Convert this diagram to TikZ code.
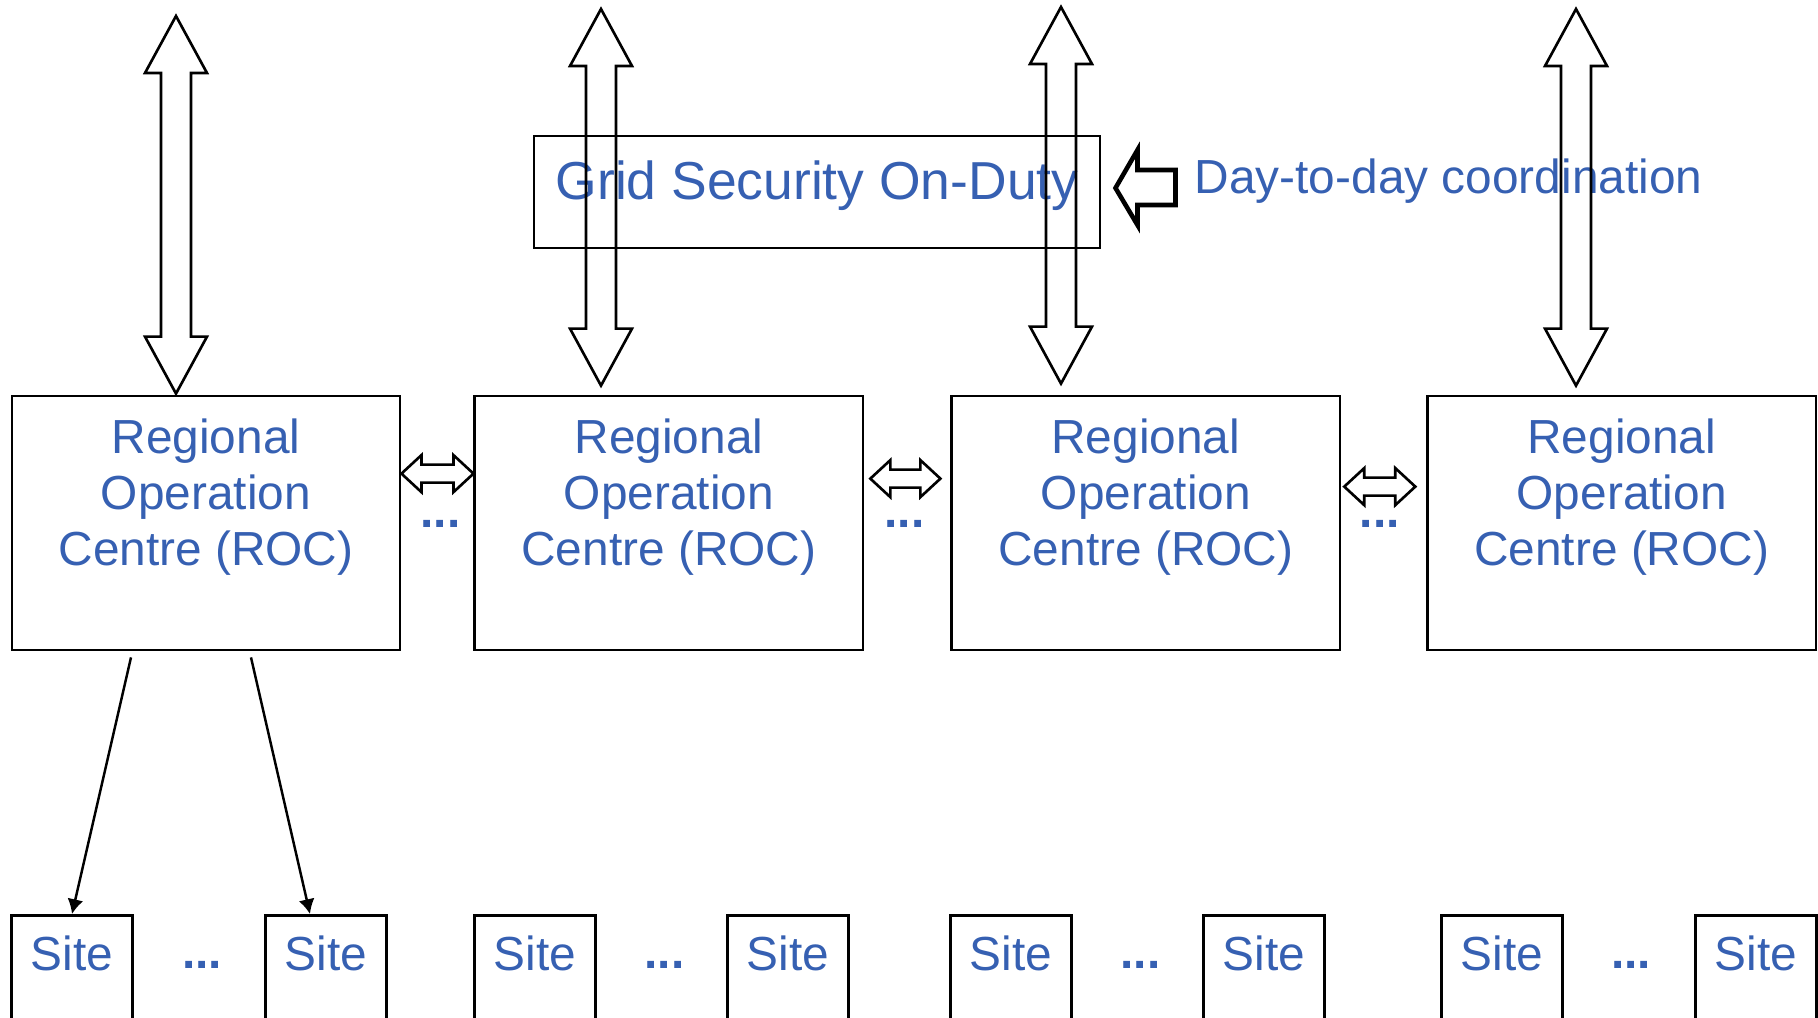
\documentclass[tikz,border=0pt]{standalone}
\usepackage{fontspec}
\setmainfont{Liberation Sans}
\usetikzlibrary{positioning,calc,arrows.meta}
\definecolor{rocblue}{RGB}{54,96,178}

%% hollow block arrows
\newcommand{\updown}[2]{%
  \draw[blockarrow] (#1) -- ++(31,57) -- ++(-16,0) -- ($(#2)+(15,-57)$) -- ++(16,0)
    -- (#2) -- ++(-31,-57) -- ++(16,0) -- ($(#1)+(-15,57)$) -- ++(-16,0) -- cycle;}
\newcommand{\leftright}[2]{%
  \draw[blockarrow] (#1) -- ++(20,-18.5) -- ++(0,9.5) -- ($(#2)+(-20,-9)$) -- ++(0,-9.5)
    -- (#2) -- ++(-20,18.5) -- ++(0,-9.5) -- ($(#1)+(20,9)$) -- ++(0,9.5) -- cycle;}

\begin{document}
\begin{tikzpicture}[x=0.01cm,y=-0.01cm,
    box/.style={draw,line width=0.75pt,inner sep=0pt},
    roc/.style={box,minimum width=3.88cm,minimum height=2.54cm},
    roctext/.style={align=center,text=rocblue,inner sep=0pt,font=\fontsize{13.6}{15.9}\selectfont},
    site/.style={box,minimum width=1.21cm,minimum height=1.1cm,anchor=north,text=rocblue,
      font=\fontsize{13.6}{16}\selectfont,text height=9pt,text depth=9pt},
    dots/.style={text=rocblue,font=\fontsize{13.6}{16}\selectfont\bfseries,anchor=base,inner sep=0pt},
    blockarrow/.style={draw,line width=0.75pt,line join=miter},
    ]
      \useasboundingbox (0,0) rectangle (1818,1017);
      %% Regional operation centres
      \node[roc] (roc1) at (206,523) {};
      \node[roc,right=0.72cm of roc1] (roc2) {};
      \node[roc,right=0.86cm of roc2] (roc3) {};
      \node[roc,right=0.85cm of roc3] (roc4) {};
      \node[roctext,below=0.24cm of roc1.north] (lbl1) {Regional\\Operation\\Centre (ROC)};
      \node[roctext,below=0.24cm of roc2.north] (lbl2) {Regional\\Operation\\Centre (ROC)};
      \node[roctext,below=0.24cm of roc3.north] (lbl3) {Regional\\Operation\\Centre (ROC)};
      \node[roctext,below=0.24cm of roc4.north] (lbl4) {Regional\\Operation\\Centre (ROC)};
      \node[dots] (e1) at ($(roc1.east)!0.5!(roc2.west)+(3,4)$) {...};
      \node[dots] (e2) at ($(roc2.east)!0.5!(roc3.west)+(-3,4)$) {...};
      \node[dots] (e3) at ($(roc3.east)!0.5!(roc4.west)+(-4,4)$) {...};
      %% Sites
      \node[site] (s1) at (72,914) {Site};
      \node[site] (s2) at (326,914) {Site};
      \node[site] (s3) at (535,914) {Site};
      \node[site] (s4) at (788,914) {Site};
      \node[site] (s5) at (1011,914) {Site};
      \node[site] (s6) at (1264,914) {Site};
      \node[site] (s7) at (1502,914) {Site};
      \node[site] (s8) at (1756,914) {Site};
      \node[dots] (d1) at ($(s1.east)!0.5!(s2.west)+(3,-2)$) {...};
      \node[dots] (d2) at ($(s3.east)!0.5!(s4.west)+(3,-2)$) {...};
      \node[dots] (d3) at ($(s5.east)!0.5!(s6.west)+(3,-2)$) {...};
      \node[dots] (d4) at ($(s7.east)!0.5!(s8.west)+(2,-2)$) {...};
      %% Grid security on-duty
      \node[box,minimum width=5.66cm,minimum height=1.12cm,text=rocblue,
        font=\fontsize{15.2}{18}\selectfont,text height=11pt,text depth=7pt] (gsod) at (817,192) {Grid Security On-Duty};
      \node[anchor=base west,inner sep=0pt,text=rocblue,font=\fontsize{13.6}{16}\selectfont] (coord) at (1194,193) {Day-to-day coordination};
      \coordinate (tip) at ($(gsod.east)+(14,-4)$);
      \draw[blockarrow,line width=1.3pt] (tip) -- ++(22,-38) -- ++(0,20) -- ++(38,0) -- ++(0,35)
        -- ++(-38,0) -- ++(0,20) -- cycle;
      %% Vertical block arrows
      \coordinate (t1) at (176,16);
      \coordinate (t2) at (601,9);
      \coordinate (t3) at (1061,7);
      \coordinate (t4) at (1576,9);
      \coordinate (b1) at ($(t1 |- roc1.north)+(0,-1)$);
      \coordinate (b2) at ($(t2 |- roc2.north)+(0,-9)$);
      \coordinate (b3) at ($(t3 |- roc3.north)+(0,-11)$);
      \coordinate (b4) at ($(t4 |- roc4.north)+(0,-9)$);
      \updown{t1}{b1}
      \updown{t2}{b2}
      \updown{t3}{b3}
      \updown{t4}{b4}
      %% Horizontal block arrows
      \coordinate (h1a) at ($(roc1.north east)+(0,79)$);
      \coordinate (h1b) at ($(roc2.north west)+(0,79)$);
      \coordinate (h2a) at ($(roc2.north east)+(6,84)$);
      \coordinate (h2b) at ($(roc3.north west)+(-10,84)$);
      \coordinate (h3a) at ($(roc3.north east)+(3,92)$);
      \coordinate (h3b) at ($(roc4.north west)+(-11,92)$);
      \leftright{h1a}{h1b}
      \leftright{h2a}{h2b}
      \leftright{h3a}{h3b}
      %% ROC to sites
      \draw[-{Latex[length=4.2pt,width=4.6pt]},line width=0.7pt] ($(roc1.south)+(-75,6)$) -- (s1.north);
      \draw[-{Latex[length=4.2pt,width=4.6pt]},line width=0.7pt] ($(roc1.south)+(45,6)$) -- ($(s2.north)+(-16,0)$);
    \end{tikzpicture}
\end{document}
